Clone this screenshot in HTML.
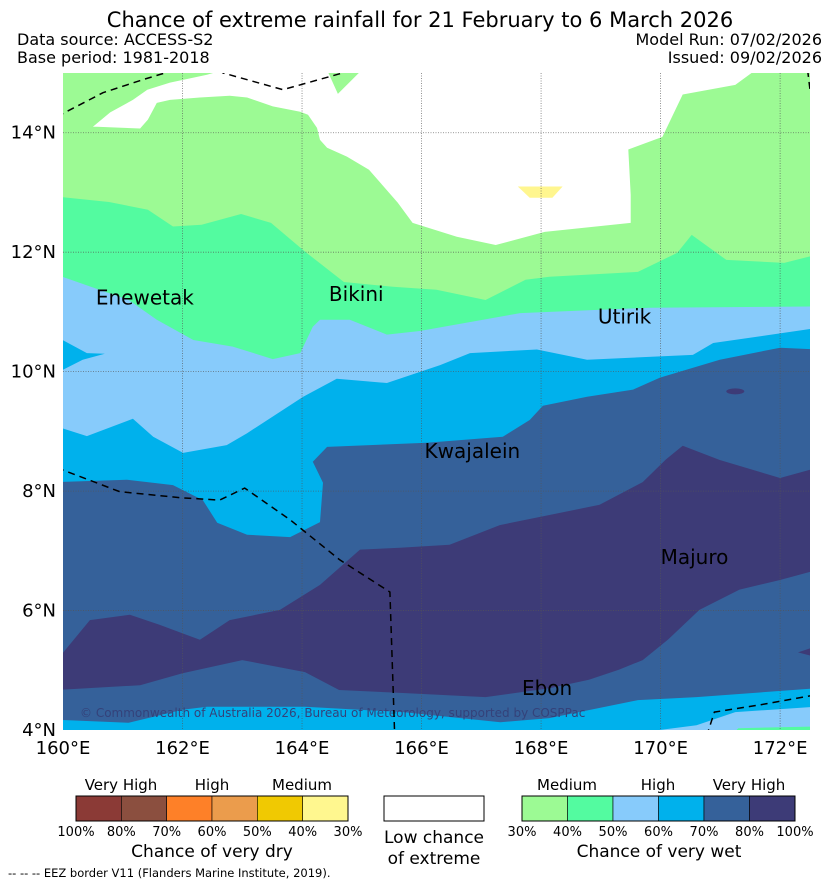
<!DOCTYPE html>
<html><head><meta charset="utf-8"><style>
body{margin:0;background:#fff;width:839px;height:885px;overflow:hidden;font-family:"DejaVu Sans","Liberation Sans",sans-serif}
svg{position:absolute;left:0;top:0}
</style></head><body>
<svg id="c" width="839" height="885" xmlns="http://www.w3.org/2000/svg">
<text x="420" y="27" font-size="21" text-anchor="middle">Chance of extreme rainfall for 21 February to 6 March 2026</text>
<text x="17" y="45" font-size="16">Data source: ACCESS-S2</text>
<text x="17" y="63" font-size="16">Base period: 1981-2018</text>
<text x="822" y="45" font-size="16" text-anchor="end">Model Run: 07/02/2026</text>
<text x="822" y="63" font-size="16" text-anchor="end">Issued: 09/02/2026</text>
<defs><clipPath id="mc"><rect x="63" y="73" width="747" height="657"/></clipPath></defs>
<g id="map" clip-path="url(#mc)"></g>
<g id="grid"></g>
<g id="eez" clip-path="url(#mc)"></g>
<g id="axes"></g>
<g id="legend"></g>
</svg>
<script>
const lonMin=160, lonMax=172.5, latMin=4, latMax=15;
const X0=63, X1=810, Y0=730, Y1=73;
function px(lon){return X0+(lon-lonMin)/(lonMax-lonMin)*(X1-X0);}
function py(lat){return Y0-(lat-latMin)/(latMax-latMin)*(Y0-Y1);}

const lonTicks=[160,162,164,166,168,170,172];
const latTicks=[4,6,8,10,12,14];

const colors={g1:"#9cfa94",g2:"#53fba0",lb:"#87cbfb",b:"#00b1ec",db:"#35619a",nv:"#3d3b77",y:"#fff68f",w:"#ffffff"};

const whiteArea=[[160.50,14.10],[160.79,14.34],[161.17,14.55],[161.41,14.72],[161.79,14.84],[162.41,14.97],[162.68,15.05],[164.42,15.05],[164.60,14.65],[165.0,15.05],[171.59,15.05],[171.25,14.80],[170.37,14.64],[170.03,13.93],[169.46,13.72],[169.50,12.96],[169.50,12.49],[168.06,12.34],[167.24,12.12],[166.59,12.26],[165.85,12.49],[165.60,12.83],[165.12,13.38],[164.75,13.60],[164.42,13.75],[164.30,13.88],[164.25,14.08],[164.10,14.30],[163.97,14.35],[163.51,14.44],[163.08,14.59],[162.79,14.62],[162.29,14.59],[161.79,14.55],[161.57,14.50],[161.42,14.22],[161.29,14.07],[160.57,14.10]];
const yellowPatch=[[167.61,13.10],[168.36,13.10],[168.19,12.91],[167.81,12.91]];
const green2Top=[[159.9,12.93],[160.77,12.84],[161.42,12.71],[161.84,12.43],[162.32,12.46],[162.98,12.64],[163.48,12.49],[164.05,12.01],[164.70,11.50],[165.52,11.42],[166.25,11.37],[167.07,11.20],[167.74,11.54],[168.14,11.59],[169.62,11.67],[170.28,11.99],[170.52,12.29],[171.10,11.87],[172.07,11.82],[172.62,11.96]];
const lightBlueTop=[[159.9,11.62],[161.10,11.20],[161.57,10.87],[162.18,10.53],[162.84,10.42],[163.51,10.21],[163.97,10.31],[164.18,10.75],[164.30,10.87],[164.80,10.87],[165.42,10.62],[165.97,10.68],[167.65,10.98],[169.82,11.07],[172.62,11.09]];
const blueLeftPatch=[[159.9,10.58],[160.40,10.31],[160.70,10.30],[160.33,10.20],[159.9,9.98]];
const blueTop=[[159.9,9.08],[160.40,8.92],[161.17,9.21],[161.51,8.91],[162.01,8.64],[162.74,8.77],[163.08,8.97],[164.02,9.58],[164.58,9.88],[165.42,9.81],[166.31,10.11],[166.81,10.31],[167.93,10.37],[168.77,10.20],[170.54,10.28],[170.88,10.48],[172.62,10.73]];
const darkBlueTop=[[159.9,8.15],[161.07,8.19],[161.84,8.10],[162.34,7.85],[162.58,7.47],[163.08,7.27],[163.80,7.23],[164.30,7.48],[164.35,8.14],[164.18,8.49],[164.42,8.74],[166.09,8.81],[167.36,8.91],[167.81,9.19],[168.03,9.43],[168.77,9.58],[169.54,9.70],[169.99,9.90],[170.99,10.20],[172.0,10.40],[172.62,10.37]];
const navyTop=[[159.9,5.17],[160.45,5.84],[161.12,5.93],[161.62,5.76],[162.29,5.51],[162.79,5.84],[163.63,6.01],[164.30,6.43],[164.97,7.02],[165.64,7.05],[166.47,7.10],[167.31,7.43],[168.14,7.60],[168.98,7.77],[169.70,8.15],[170.09,8.53],[170.37,8.76],[170.99,8.52],[172.0,8.22],[172.62,8.39]];
const navyBottom=[[172.62,6.68],[171.99,6.51],[171.32,6.35],[170.65,6.01],[170.12,5.51],[169.70,5.17],[169.30,5.01],[168.80,4.84],[168.14,4.70],[167.07,4.55],[165.69,4.62],[164.62,4.67],[164.05,4.97],[163.0,5.17],[162.0,4.95],[161.29,4.75],[159.9,4.67]];
const bottomBlueTop=[[159.9,4.17],[161.10,4.12],[162.0,4.34],[162.41,4.39],[164.05,4.39],[165.69,4.30],[167.32,4.13],[168.14,4.20],[169.62,4.50],[170.60,4.55],[172.62,4.70]];
const bottomLightBlueTop=[[169.21,3.9],[170.60,4.08],[171.25,4.30],[172.62,4.39]];
const bottomGreenTop=[[171.17,3.9],[171.3,4.03],[172.62,4.06]];

const eezLines=[
 [[159.9,14.27],[160.67,14.67],[161.34,14.89],[161.67,14.99],[161.9,15.05]],
 [[162.6,15.05],[162.68,15.0],[163.68,14.72],[164.64,14.99],[164.8,15.05]],
 [[159.9,8.39],[160.95,7.99],[161.96,7.89],[162.62,7.85],[163.04,8.05],[163.80,7.52],[164.63,6.85],[165.47,6.31],[165.55,3.9]],
 [[170.77,3.9],[170.90,4.30],[171.66,4.42],[172.6,4.59]],
 [[172.46,15.05],[172.5,14.72]]
];

const islandNames=["Enewetak","Bikini","Utirik","Kwajalein","Majuro","Ebon"];
const islandLon=[160.55,164.45,168.95,166.05,170.0,167.68];
const islandLat=[11.12,11.18,10.81,8.55,6.78,4.59];

const NS="http://www.w3.org/2000/svg";
function el(tag,attrs,parent){const e=document.createElementNS(NS,tag);for(const k in attrs)e.setAttribute(k,attrs[k]);parent.appendChild(e);return e;}
function pts(arr){return arr.map(p=>px(p[0]).toFixed(1)+","+py(p[1]).toFixed(1)).join(" ");}
const map=document.getElementById("map");
function below(top,color,name){
  const arr=top.concat([[172.7,top[top.length-1][1]],[172.7,3.8],[159.8,3.8]]);
  const p=el("polygon",{points:pts(arr),fill:color},map);
  
  
}
const bg=el("rect",{x:px(159.8),y:py(15.2),width:px(172.7)-px(159.8),height:py(3.8)-py(15.2),fill:colors.g1},map);


const wp=el("polygon",{points:pts(whiteArea),fill:colors.w},map);


const yp=el("polygon",{points:pts(yellowPatch),fill:colors.y},map);


below(green2Top,colors.g2,'region-wet-40-50');
below(lightBlueTop,colors.lb,'region-wet-50-60');
const blp=el("polygon",{points:pts(blueLeftPatch),fill:colors.b},map);


below(blueTop,colors.b,'region-wet-60-70');
below(darkBlueTop,colors.db,'region-wet-70-80');
const nv=el("polygon",{points:pts(navyTop.concat(navyBottom)),fill:colors.nv},map);


below(bottomBlueTop,colors.b,'region-wet-60-70-south');
below(bottomLightBlueTop,colors.lb,'region-wet-50-60-south');
below(bottomGreenTop,colors.g2,'region-wet-40-50-south');
const dbp=el("ellipse",{cx:px(171.25),cy:py(9.67),rx:9,ry:3,fill:colors.nv},map);


const nvp=el("polygon",{points:pts([[172.3,5.3],[172.6,5.4],[172.6,5.22]]),fill:colors.nv},map);



const cr=el("text",{x:80,y:717,"font-size":12,fill:"#34427a"},map);
cr.textContent="© Commonwealth of Australia 2026, Bureau of Meteorology, supported by COSPPac";



const grid=document.getElementById("grid");
lonTicks.forEach(l=>{if(l>lonMin&&l<lonMax){const g=el("line",{x1:px(l),x2:px(l),y1:Y1,y2:Y0,stroke:"#555","stroke-width":0.8,"stroke-dasharray":"1,1.5","stroke-opacity":0.8},grid);

}});
latTicks.forEach(l=>{if(l>latMin){const g=el("line",{x1:X0,x2:X1,y1:py(l),y2:py(l),stroke:"#555","stroke-width":0.8,"stroke-dasharray":"1,1.5","stroke-opacity":0.8},grid);

}});

const eez=document.getElementById("eez");
eezLines.forEach(line=>{const l=el("polyline",{points:pts(line),fill:"none",stroke:"#000","stroke-width":1.5,"stroke-dasharray":"7,5"},eez);

});

islandNames.forEach((n,i)=>{const t=el("text",{x:px(islandLon[i]),y:py(islandLat[i]),"font-size":20,fill:"#000"},eez);t.textContent=n;

});

const axes=document.getElementById("axes");
lonTicks.forEach(l=>{const t=el("text",{x:px(l),y:754,"font-size":18,"text-anchor":"middle"},axes);t.textContent=l+"°E";

});
latTicks.forEach(l=>{const t=el("text",{x:56,y:py(l)+6,"font-size":18,"text-anchor":"end"},axes);t.textContent=l+"°N";

});

const dryColors=["#8b3a36","#8b4f3f","#fe8028","#eb9c4c","#f0c902","#fff78f"];
const wetColors=["#9cfa94","#53fba0","#87cbfb","#00b1ec","#35619a","#3d3b77"];
const dryTicks=["100%","80%","70%","60%","50%","40%","30%"];
const wetTicks=["30%","40%","50%","60%","70%","80%","100%"];
const lg=document.getElementById("legend");
function bar(x0,w,cols,ticks,name){
  const bw=w/cols.length;
  cols.forEach((c,i)=>{const r=el("rect",{x:x0+i*bw,y:796,width:bw,height:25,fill:c,stroke:"#000","stroke-width":0.6},lg);
  
  });
  el("rect",{x:x0,y:796,width:w,height:25,fill:"none",stroke:"#000","stroke-width":1},lg);
  ticks.forEach((t,i)=>{const e=el("text",{x:x0+i*bw,y:836,"font-size":13,"text-anchor":"middle"},lg);e.textContent=t;
  
  });
}
bar(76,272,dryColors,dryTicks,'dry-legend');
bar(522,273,wetColors,wetTicks,'wet-legend');
const wb=el("rect",{x:384,y:796,width:100,height:25,fill:"#fff",stroke:"#000","stroke-width":1},lg);


function txt(s,x,y,fs,name){const t=el("text",{x:x,y:y,"font-size":fs,"text-anchor":"middle"},lg);t.textContent=s;

}
txt("Very High",121,790,15,'dry-very-high-label');
txt("High",212,790,15,'dry-high-label');
txt("Medium",302,790,15,'dry-medium-label');
txt("Medium",567,790,15,'wet-medium-label');
txt("High",658,790,15,'wet-high-label');
txt("Very High",749,790,15,'wet-very-high-label');
txt("Chance of very dry",212,857,17,'dry-legend-title');
txt("Chance of very wet",659,857,17,'wet-legend-title');
txt("Low chance",434,843,17,'low-chance-label');
txt("of extreme",434,864,17,'low-chance-label-2');
const fn=el("text",{x:8,y:877,"font-size":11.5},lg);fn.textContent="-- -- -- EEZ border V11 (Flanders Marine Institute, 2019).";


</script>
</body></html>
